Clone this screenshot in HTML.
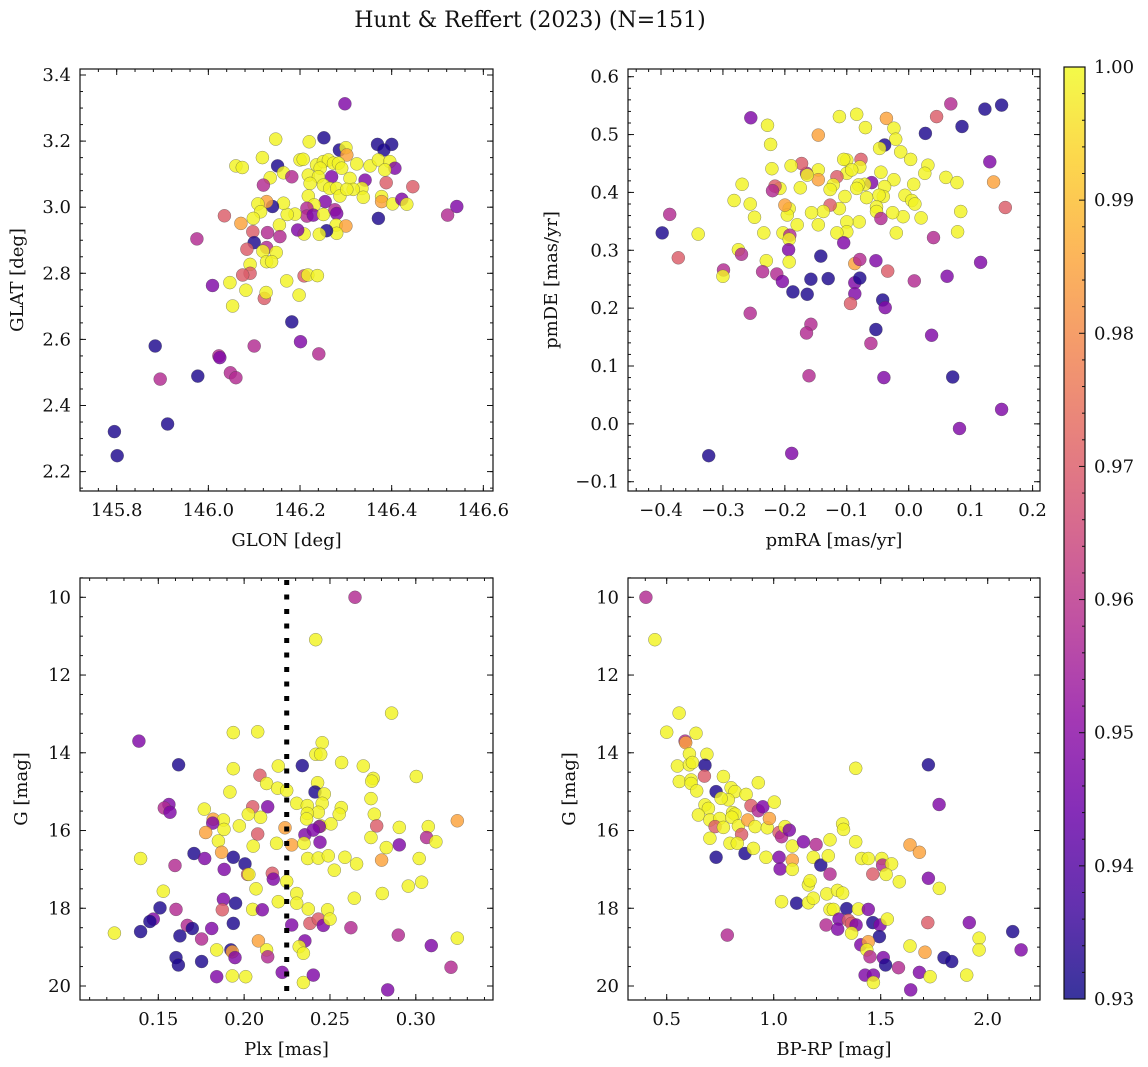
<!DOCTYPE html>
<html><head><meta charset="utf-8"><style>
html,body{margin:0;padding:0;background:#fff;}
svg{display:block;font-family:"DejaVu Serif","Liberation Serif",serif;}
</style></head><body>
<svg id="fig" width="1148" height="1067" viewBox="0 0 1148 1067" xmlns="http://www.w3.org/2000/svg">
<defs>
<linearGradient id="plasma" x1="0" y1="1" x2="0" y2="0">
<stop offset="0" stop-color="#0d0887"/><stop offset="0.1" stop-color="#41049d"/><stop offset="0.2" stop-color="#6a00a8"/><stop offset="0.3" stop-color="#8f0da4"/><stop offset="0.4" stop-color="#b12a90"/><stop offset="0.5" stop-color="#cc4778"/><stop offset="0.6" stop-color="#e16462"/><stop offset="0.7" stop-color="#f2844b"/><stop offset="0.8" stop-color="#fca636"/><stop offset="0.9" stop-color="#fcce25"/><stop offset="1" stop-color="#f0f921"/>
</linearGradient>
</defs>
<text x="530" y="27" font-size="22" text-anchor="middle" fill="#111">Hunt &amp; Reffert (2023) (N=151)</text>
</svg>
<script>
// ---- data: panel 1 (GLON vs GLAT)
const glon=[146.298,146.252,146.220,146.147,146.369,146.400,146.383,146.286,146.300,146.302,146.118,146.200,146.207,146.060,146.074,146.151,146.164,146.182,146.135,146.120,146.218,146.236,146.251,146.262,146.273,146.284,146.291,146.244,146.269,146.240,146.222,146.251,146.265,146.280,146.287,146.309,146.324,146.353,146.371,146.396,146.407,146.385,146.342,146.335,146.316,146.302,146.338,146.388,146.446,146.378,146.378,146.402,146.422,146.433,146.542,146.522,146.371,146.218,146.255,146.231,146.215,146.215,146.229,146.251,146.276,146.280,146.279,146.300,146.280,146.258,146.242,146.209,146.195,146.189,146.172,146.164,146.155,146.156,146.129,146.140,146.127,146.108,146.114,146.098,146.035,146.071,146.097,146.100,146.084,146.127,146.119,146.148,146.127,146.138,146.091,146.091,146.075,145.975,146.047,146.009,146.082,146.053,146.122,146.126,146.171,146.209,146.217,146.238,146.198,146.182,146.201,146.241,146.100,146.023,146.025,146.048,146.060,145.977,145.895,145.884,145.911,145.795,145.801];
const glat=[3.313,3.210,3.198,3.206,3.190,3.190,3.173,3.173,3.180,3.158,3.150,3.143,3.145,3.125,3.120,3.125,3.104,3.092,3.089,3.067,3.097,3.128,3.138,3.143,3.133,3.133,3.118,3.118,3.092,3.092,3.072,3.067,3.057,3.057,3.034,3.087,3.131,3.125,3.143,3.138,3.118,3.113,3.082,3.057,3.054,3.054,3.030,3.074,3.062,3.032,3.017,3.010,3.024,3.009,3.002,2.976,2.966,3.034,3.017,3.007,2.997,2.973,2.976,2.978,2.992,2.981,2.946,2.943,2.921,2.929,2.918,2.919,2.931,2.979,2.978,3.012,2.946,2.911,2.923,3.002,3.017,3.010,2.986,2.966,2.974,2.951,2.926,2.893,2.873,2.878,2.867,2.863,2.835,2.835,2.827,2.800,2.795,2.904,2.772,2.763,2.749,2.701,2.724,2.742,2.777,2.792,2.795,2.793,2.734,2.653,2.593,2.556,2.580,2.550,2.545,2.499,2.484,2.489,2.480,2.580,2.344,2.321,2.248];
const prob1=[.948,.932,.999,.999,.932,.932,.932,.932,.999,.985,.999,.999,.999,.999,.999,.932,.999,.958,.999,.958,.999,.999,.999,.999,.999,.999,.999,.999,.948,.999,.999,.999,.999,.999,.999,.999,.999,.999,.999,.999,.948,.999,.948,.999,.999,.999,.999,.970,.970,.999,.985,.999,.948,.999,.948,.958,.932,.999,.948,.999,.958,.958,.948,.999,.958,.948,.999,.985,.999,.932,.999,.999,.948,.999,.999,.999,.999,.958,.958,.932,.985,.999,.999,.999,.970,.985,.970,.932,.970,.958,.999,.999,.999,.999,.999,.970,.970,.958,.999,.948,.999,.999,.970,.999,.999,.970,.999,.999,.999,.932,.948,.958,.958,.958,.948,.958,.958,.932,.958,.932,.932,.932,.932];
// ---- data: panel 2 (pmRA vs pmDE)
const pmra=[-.255,-.228,-.223,-.146,-.112,-.084,-.070,-.036,-.024,-.021,-.039,-.047,.027,.045,.068,.123,.150,.086,.131,.137,.156,-.013,.003,.031,.026,.008,.060,.078,.084,.079,.040,.020,-.009,-.006,.005,.010,-.026,-.020,-.024,-.045,-.039,-.041,-.048,-.052,-.052,-.045,-.060,-.071,-.068,-.081,-.077,-.079,-.084,-.080,-.100,-.105,-.100,-.092,-.103,-.100,-.100,-.116,-.112,-.116,-.122,-.127,-.127,-.138,-.146,-.146,-.146,-.157,-.165,-.164,-.173,-.175,-.180,-.190,-.193,-.196,-.200,-.203,-.192,-.193,-.208,-.216,-.220,-.221,-.234,-.230,-.236,-.249,-.256,-.269,-.282,-.275,-.270,-.299,-.300,-.340,-.386,-.398,-.372,-.256,-.213,-.204,-.187,-.194,-.193,-.164,-.158,-.142,-.130,-.105,-.158,-.165,-.161,-.087,-.087,-.094,-.087,-.079,-.079,-.053,-.034,-.042,-.038,-.053,-.061,-.040,.009,.037,.062,.116,.071,.082,.150,-.323,-.189];
const pmde=[.529,.516,.483,.499,.531,.535,.512,.528,.511,.492,.482,.476,.502,.531,.553,.544,.551,.514,.453,.418,.374,.470,.457,.447,.433,.414,.426,.417,.367,.332,.322,.356,.358,.395,.386,.380,.365,.330,.422,.435,.410,.393,.395,.375,.367,.355,.417,.414,.391,.413,.457,.444,.407,.349,.456,.457,.433,.439,.393,.349,.332,.330,.372,.427,.413,.405,.378,.367,.439,.422,.344,.365,.433,.430,.450,.408,.344,.446,.372,.361,.378,.330,.326,.319,.407,.411,.403,.441,.330,.282,.263,.357,.380,.414,.386,.301,.293,.266,.255,.328,.362,.330,.287,.191,.259,.246,.228,.301,.280,.224,.250,.290,.251,.313,.172,.157,.083,.244,.225,.208,.277,.284,.252,.282,.264,.214,.201,.163,.139,.080,.247,.153,.255,.279,.081,-.008,.025,-.055,-.051];
const prob2=[.948,.999,.999,.985,.999,.999,.999,.985,.999,.999,.932,.999,.932,.970,.958,.932,.932,.932,.948,.985,.970,.999,.999,.999,.999,.999,.999,.999,.999,.999,.958,.999,.999,.999,.999,.999,.999,.999,.999,.999,.999,.999,.999,.999,.999,.958,.948,.999,.999,.999,.970,.999,.999,.999,.999,.999,.999,.999,.999,.999,.999,.999,.999,.970,.999,.999,.970,.999,.999,.985,.999,.999,.958,.999,.970,.999,.999,.999,.999,.999,.985,.999,.958,.999,.999,.970,.958,.999,.999,.999,.958,.999,.999,.999,.999,.999,.958,.958,.999,.999,.958,.932,.970,.958,.958,.948,.932,.948,.999,.932,.932,.932,.932,.948,.958,.958,.958,.948,.948,.970,.985,.958,.932,.948,.970,.932,.948,.932,.958,.948,.958,.948,.948,.948,.932,.948,.948,.932,.948];
// ---- data: panel 3 (Plx vs G)
const plx=[.2646,.2417,.2859,.1937,.2079,.1387,.2455,.2418,.2446,.1618,.1937,.2199,.2339,.2568,.2694,.3003,.2092,.2131,.2195,.2248,.1917,.2428,.2413,.2467,.2752,.2743,.2739,.1562,.1535,.1568,.1768,.2050,.2137,.2306,.2368,.2455,.2432,.2368,.2364,.2566,.2554,.2758,.3242,.1820,.1879,.1817,.1883,.2024,.2096,.1972,.1776,.2238,.2446,.2506,.2438,.2772,.2904,.3073,.2079,.2354,.2403,.2739,.3063,.3117,.1850,.2053,.2189,.2277,.2349,.2442,.2904,.2828,.1869,.1708,.1770,.1937,.1397,.1597,.2370,.2432,.2490,.2587,.2655,.2801,.3020,.1884,.2005,.2020,.2028,.2525,.2164,.2170,.2248,.2956,.3034,.2069,.2306,.2306,.2199,.2642,.2805,.1529,.1510,.1603,.1879,.1950,.1873,.2050,.2106,.2374,.2486,.1937,.2277,.2383,.2432,.2461,.2500,.2622,.1471,.1451,.1669,.1698,.1811,.1244,.1397,.1626,.1752,.2083,.2354,.2321,.2345,.2898,.3242,.3090,.1840,.1923,.1931,.1947,.2131,.2137,.1603,.1617,.1752,.3205,.1840,.1931,.2009,.2222,.2345,.2403,.2836];
const gmag3=[10.00,11.09,12.98,13.48,13.46,13.70,13.74,14.04,14.04,14.31,14.41,14.34,14.33,14.25,14.34,14.61,14.58,14.79,14.91,14.97,15.01,14.77,15.01,15.06,14.66,14.73,15.18,15.33,15.42,15.53,15.45,15.39,15.39,15.30,15.36,15.30,15.53,15.56,15.70,15.41,15.58,15.58,15.75,15.71,15.73,15.81,15.97,15.58,15.66,15.88,16.05,15.93,15.88,15.83,15.90,15.88,15.92,15.90,16.09,16.11,15.99,16.18,16.18,16.29,16.27,16.40,16.33,16.37,16.33,16.30,16.37,16.44,16.56,16.59,16.72,16.69,16.72,16.90,16.72,16.71,16.65,16.69,16.86,16.76,16.72,17.00,16.86,17.13,17.13,17.02,17.10,17.25,17.31,17.43,17.33,17.50,17.62,17.87,17.83,17.74,17.62,17.56,17.99,18.03,17.77,17.87,18.04,18.03,18.04,18.02,18.04,18.39,18.43,18.39,18.28,18.44,18.28,18.50,18.28,18.34,18.44,18.52,18.52,18.64,18.60,18.71,18.79,18.84,18.84,18.99,19.16,18.69,18.77,18.96,19.07,19.07,19.12,19.27,19.07,19.25,19.27,19.46,19.37,19.52,19.76,19.74,19.76,19.65,19.91,19.72,20.10];
const prob3=[.958,.999,.999,.999,.999,.948,.999,.999,.999,.932,.999,.999,.932,.999,.999,.999,.970,.999,.999,.999,.999,.999,.932,.999,.999,.999,.999,.948,.958,.948,.999,.970,.948,.999,.999,.999,.999,.999,.999,.999,.999,.999,.985,.985,.999,.948,.999,.999,.999,.999,.985,.985,.999,.999,.948,.970,.999,.999,.970,.948,.948,.999,.958,.999,.999,.999,.999,.985,.999,.948,.948,.999,.985,.932,.948,.932,.999,.958,.999,.999,.999,.999,.999,.985,.999,.948,.932,.970,.999,.999,.970,.948,.999,.999,.999,.999,.999,.999,.999,.999,.999,.999,.932,.958,.948,.932,.970,.999,.948,.999,.999,.932,.948,.970,.970,.948,.999,.958,.948,.932,.958,.932,.948,.999,.932,.932,.958,.985,.948,.999,.999,.958,.999,.948,.999,.932,.985,.948,.999,.958,.932,.932,.932,.958,.948,.999,.999,.948,.999,.948,.948];
// ---- data: panel 4 (BP-RP vs G)
const bprp=[.403,.445,.558,.500,.637,.586,.589,.606,.688,.550,.606,.620,.679,.559,.614,.614,.640,.676,.765,.928,.731,.801,.819,.871,.788,.754,.679,.695,.648,.702,.748,.726,.765,.808,.819,.804,.835,.850,.702,.796,.830,.731,.866,.905,.894,.928,.949,.879,.913,.970,.980,1.003,.964,1.025,1.037,1.053,1.073,1.025,1.030,1.087,1.087,1.087,1.037,1.107,1.139,1.198,1.185,1.220,1.263,1.255,1.263,1.322,1.326,1.383,1.383,1.162,1.170,1.162,1.185,1.248,1.298,1.322,1.263,1.279,1.245,1.305,1.299,1.341,1.349,1.364,1.385,1.364,1.396,1.442,1.463,1.497,1.494,1.531,1.407,1.442,1.435,1.450,1.512,1.523,1.583,1.427,1.466,1.466,1.640,1.681,1.731,1.637,1.707,1.720,1.796,1.832,1.902,1.960,1.960,1.914,2.117,2.156,1.723,1.774,1.637,1.681,1.723,1.773,1.587,1.505,1.509,1.551,1.525,1.463,1.411,1.442,.783];
const gmag4=[10.00,11.09,12.98,13.47,13.50,13.70,13.74,14.03,14.04,14.34,14.31,14.25,14.32,14.74,14.70,14.79,14.98,14.60,14.61,14.77,15.00,14.90,15.00,15.07,15.21,15.17,15.34,15.43,15.60,15.73,15.69,15.90,15.92,15.54,15.58,15.66,15.88,16.10,16.20,16.33,16.33,16.69,16.59,16.46,15.36,15.49,15.39,15.73,15.90,15.93,15.69,15.27,16.69,16.05,16.16,15.90,15.99,16.69,16.99,16.40,16.76,17.00,17.83,17.87,16.29,16.36,16.69,16.89,16.24,16.65,17.12,15.83,15.97,16.29,14.40,17.40,17.29,17.86,17.74,17.63,17.54,17.61,18.03,18.03,18.43,18.28,18.54,18.01,18.31,18.39,18.43,18.64,18.02,18.03,18.37,18.43,18.73,18.28,18.94,18.86,19.07,19.25,19.27,19.46,19.53,19.72,19.72,19.91,20.10,19.65,19.76,18.97,19.13,18.37,19.27,19.37,19.72,18.77,19.07,18.37,18.60,19.07,17.23,17.49,16.37,16.56,14.31,15.33,17.32,16.72,16.89,16.86,17.13,17.12,16.72,16.72,18.69];
const prob4=[.958,.999,.999,.999,.999,.958,.985,.999,.999,.999,.999,.999,.932,.999,.999,.999,.999,.970,.999,.999,.932,.999,.999,.999,.999,.999,.999,.999,.999,.999,.999,.970,.999,.999,.999,.999,.999,.970,.999,.999,.999,.932,.932,.999,.970,.958,.948,.985,.999,.999,.985,.999,.999,.970,.958,.999,.948,.948,.948,.999,.985,.999,.999,.932,.948,.958,.999,.932,.999,.999,.958,.999,.999,.999,.999,.999,.999,.999,.999,.999,.999,.999,.999,.999,.958,.948,.948,.932,.970,.970,.948,.999,.999,.948,.932,.948,.932,.999,.948,.985,.999,.958,.948,.932,.958,.948,.948,.999,.948,.948,.999,.999,.985,.970,.932,.932,.999,.999,.999,.948,.932,.948,.948,.999,.985,.985,.932,.948,.999,.999,.958,.999,.999,.970,.999,.999,.958];

const SVGNS="http://www.w3.org/2000/svg";
const fig=document.getElementById('fig');
const stops=["#0d0887","#41049d","#6a00a8","#8f0da4","#b12a90","#cc4778","#e16462","#f2844b","#fca636","#fcce25","#f0f921"];
const VMIN=0.93, VMAX=1.0;
function hex(c){return [parseInt(c.slice(1,3),16),parseInt(c.slice(3,5),16),parseInt(c.slice(5,7),16)];}
function cmap(v){
  let t=(v-VMIN)/(VMAX-VMIN); t=Math.max(0,Math.min(1,t));
  const f=t*10, i=Math.min(9,Math.floor(f)), u=f-i;
  const a=hex(stops[i]), b=hex(stops[i+1]);
  return 'rgb('+a.map((x,k)=>Math.round(x+(b[k]-x)*u)).join(',')+')';
}
function mk(tag,attrs,parent){const e=document.createElementNS(SVGNS,tag);for(const k in attrs)e.setAttribute(k,attrs[k]);(parent||fig).appendChild(e);return e;}
function fmt(v,d){const s=Math.abs(v).toFixed(d);return (v< -1e-9?'\u2212':'')+s;}

function panel(cfg,xs,ys,ps){
  const g=mk('g',{});
  
  
  const X=v=>cfg.x0+(v-cfg.xv0)*cfg.xs, Y=v=>cfg.y0+(v-cfg.yv0)*cfg.ys;
  const [L,R,T,B]=cfg.box;
  const pts=mk('g',{},g);
  
  
  for(let i=0;i<xs.length;i++){
    const c=mk('circle',{cx:X(xs[i]).toFixed(1),cy:Y(ys[i]).toFixed(1),r:6.5,fill:cmap(ps[i]),'fill-opacity':0.82,stroke:'#444','stroke-width':0.5,'stroke-opacity':0.6},pts);
    
    
  }
  if(cfg.vline!==undefined){
    const l=mk('line',{x1:X(cfg.vline),x2:X(cfg.vline),y1:T+2,y2:B,stroke:'#000','stroke-width':5,'stroke-dasharray':'5 9.5'},g);
    
    
  }
  const tk=mk('g',{stroke:'#111','stroke-width':1},g);
  
  
  function tickSet(vals,len,axis){
    vals.forEach(v=>{
      if(axis==='x'){const x=X(v); if(x<L-0.5||x>R+0.5)return;
        mk('line',{x1:x,x2:x,y1:B,y2:B-len},tk); mk('line',{x1:x,x2:x,y1:T,y2:T+len},tk);}
      else {const y=Y(v); if(y<T-0.5||y>B+0.5)return;
        mk('line',{x1:L,x2:L+len,y1:y,y2:y},tk); mk('line',{x1:R,x2:R-len,y1:y,y2:y},tk);}
    });
  }
  const rng=(a,b,s)=>{const o=[];for(let v=a;v<=b+s*1e-3;v+=s)o.push(+v.toFixed(6));return o;};
  tickSet(rng(cfg.xmin[0],cfg.xmin[1],cfg.xmin[2]),3,'x');
  tickSet(rng(cfg.ymin[0],cfg.ymin[1],cfg.ymin[2]),3,'y');
  tickSet(cfg.xt,6,'x'); tickSet(cfg.yt,6,'y');
  mk('rect',{x:L,y:T,width:R-L,height:B-T,fill:'none',stroke:'#111','stroke-width':1.2},g);
  cfg.xt.forEach(v=>{const t=mk('text',{x:X(v),y:B+25,'font-size':18,'text-anchor':'middle',fill:'#111'},g);t.textContent=fmt(v,cfg.xd);
    
    });
  cfg.yt.forEach(v=>{const t=mk('text',{x:L-9,y:Y(v)+6,'font-size':18,'text-anchor':'end',fill:'#111'},g);t.textContent=fmt(v,cfg.yd);
    
    });
  const xl=mk('text',{x:(L+R)/2,y:B+55,'font-size':18,'text-anchor':'middle',fill:'#111'},g);xl.textContent=cfg.xlabel;
  
  
  const yl=mk('text',{x:0,y:0,'font-size':18,'text-anchor':'middle',fill:'#111',transform:`translate(${cfg.ylx},${(T+B)/2}) rotate(-90)`},g);yl.textContent=cfg.ylabel;
  
  
}

panel({name:'glon-glat-panel',box:[80,493,69,491],x0:116.7,xv0:145.8,xs:458.3,y0:75,yv0:3.4,ys:-330.5,
  xt:[145.8,146.0,146.2,146.4,146.6],yt:[2.2,2.4,2.6,2.8,3.0,3.2,3.4],xmin:[145.72,146.64,0.04],ymin:[2.15,3.4,0.05],xd:1,yd:1,
  xlabel:'GLON [deg]',ylabel:'GLAT [deg]',ylx:23},glon,glat,prob1);
panel({name:'pm-panel',box:[628,1040,69,491],x0:661,xv0:-0.4,xs:619.3,y0:76.7,yv0:0.6,ys:-578.6,
  xt:[-0.4,-0.3,-0.2,-0.1,0,0.1,0.2],yt:[-0.1,0,0.1,0.2,0.3,0.4,0.5,0.6],xmin:[-0.46,0.22,0.02],ymin:[-0.12,0.62,0.02],xd:1,yd:1,
  xlabel:'pmRA [mas/yr]',ylabel:'pmDE [mas/yr]',ylx:557},pmra,pmde,prob2);
panel({name:'plx-g-panel',box:[80,493,578,1000],x0:158.3,xv0:0.15,xs:1716.7,y0:597.3,yv0:10,ys:38.87,
  xt:[0.15,0.20,0.25,0.30],yt:[10,12,14,16,18,20],xmin:[0.10,0.35,0.01],ymin:[9.5,20.5,0.5],xd:2,yd:0,vline:0.2248,
  xlabel:'Plx [mas]',ylabel:'G [mag]',ylx:27},plx,gmag3,prob3);
panel({name:'cmd-panel',box:[628,1040,578,1000],x0:666.7,xv0:0.5,xs:214,y0:597.3,yv0:10,ys:38.87,
  xt:[0.5,1.0,1.5,2.0],yt:[10,12,14,16,18,20],xmin:[0.3,2.2,0.1],ymin:[9.5,20.5,0.5],xd:1,yd:0,
  xlabel:'BP-RP [mag]',ylabel:'G [mag]',ylx:575},bprp,gmag4,prob4);

const cb=mk('g',{});


const CT=67,CB=999,CL=1064,CR=1085;
mk('rect',{x:CL,y:CT,width:CR-CL,height:CB-CT,fill:'url(#plasma)','fill-opacity':0.82},cb);
mk('rect',{x:CL,y:CT,width:CR-CL,height:CB-CT,fill:'none',stroke:'#111','stroke-width':1.2},cb);
const cy=v=>CB-(v-VMIN)/(VMAX-VMIN)*(CB-CT);
for(let k=0;k<=35;k++){const v=VMIN+k*0.002;const y=cy(v);const major=k%5===0;
  mk('line',{x1:CR,x2:CR-(major?6:3),y1:y,y2:y,stroke:'#111','stroke-width':1},cb);
  if(major){const t=mk('text',{x:CR+9,y:y+6,'font-size':18,fill:'#111'},cb);t.textContent=v.toFixed(2);
    
    }
}
</script>
</body></html>
